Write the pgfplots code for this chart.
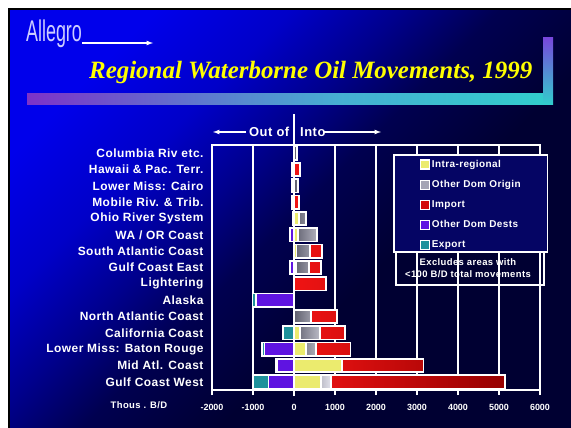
\documentclass[border=0pt]{standalone}
\usepackage{fontspec}
\setmainfont{Liberation Sans}
\newfontfamily\titlefont{Liberation Serif}
\newfontfamily\lblfont[LetterSpace=4]{Liberation Sans}
\usepackage{pgfplots}
\usepackage{pgfplotstable}
\pgfplotsset{compat=1.18}

% slide colours
\definecolor{bgA}{RGB}{0,0,235}
\definecolor{bgB}{RGB}{0,0,200}
\definecolor{bgC}{RGB}{0,0,140}
\definecolor{bgD}{RGB}{0,0,80}
\definecolor{bgE}{RGB}{0,0,50}
\definecolor{barL}{RGB}{125,50,200}
\definecolor{barM}{RGB}{70,175,210}
\definecolor{barR}{RGB}{50,205,205}
\definecolor{legbg}{RGB}{5,5,100}
% series colours
\definecolor{cExport}{RGB}{30,145,155}
\definecolor{cDests}{RGB}{95,20,225}
\definecolor{cIntra}{RGB}{235,235,110}
\definecolor{cOrigin}{RGB}{165,165,180}
\definecolor{cImport}{RGB}{210,10,10}
\definecolor{cImportL}{RGB}{240,20,20}
\definecolor{cImportR}{RGB}{150,0,0}
\definecolor{cOriginL}{RGB}{95,95,110}
\definecolor{cOriginR}{RGB}{225,225,235}

\pgfdeclarehorizontalshading{slidebg}{100bp}{color(0bp)=(bgA); color(25bp)=(bgA); color(35bp)=(bgB); color(43bp)=(bgC); color(50bp)=(bgD); color(60bp)=(bgE); color(100bp)=(bgE)}
\pgfdeclarehorizontalshading{titlebar}{100bp}{color(0bp)=(barL); color(25bp)=(barL); color(55bp)=(barM); color(75bp)=(barR); color(100bp)=(barR)}

% rows from bottom (0) to top (14); out-of movements are negative
\pgfplotstableread{
row dests export
0  -620 -380
1  -410 -20
2  -720 -70
3  0    -260
4  0    0
5  -930 -80
6  0    0
7  -90  0
8  0    0
9  -105 0
10 -30  0
11 -50  0
12 -50  0
13 -40  0
14 0    0
}\outdata

\pgfplotstableread{
row intra origin import
0  650  250 4250
1  1180 0   1980
2  300  240 840
3  150  490 600
4  0    420 620
5  0    0   0
6  0    0   780
7  40   320 290
8  60   330 290
9  100  460 0
10 120  180 0
11 0    0   130
12 0    100 0
13 0    0   150
14 0    80  0
}\intodata

\newcommand{\lblsize}{\lblfont\bfseries\fontsize{12}{13}\selectfont}
\newcommand{\ticksize}{\bfseries\fontsize{9}{10}\selectfont}
\newcommand{\legsize}{\lblfont\bfseries\fontsize{10}{11}\selectfont}

\pgfplotsset{
  slidebox/.style={
    at={(212bp,-390bp)}, anchor=south west,
    width=328bp, height=245bp, scale only axis,
    xmin=-2000, xmax=6000, ymin=-0.5, ymax=14.5,
    xbar stacked, bar width=13.5bp,
  },
  seg/.style={draw=white, line width=1.8bp, fill=#1},
  legsq/.style={legend image code/.code={
    \draw[white, line width=1.3bp, fill=#1] (0bp,-4.5bp) rectangle (9bp,4.5bp);}},
}

\begin{document}
\begin{tikzpicture}
\useasboundingbox (0,0) rectangle (571bp,-428bp);
\fill[white] (0,0) rectangle (571bp,-428bp);
\fill[black] (8bp,-8bp) rectangle (571bp,-428bp);
\shade[shading=slidebg, shading angle=-45] (10bp,-10bp) rectangle (571bp,-428bp);

% header
\node[anchor=base west, inner sep=0pt, text={rgb,255:red,205;green,205;blue,255},
      font=\fontsize{30}{30}\selectfont, xscale=0.6] at (26bp,-41bp) {Allegro};
\draw[white, line width=1.2bp, -latex] (82bp,-43bp) -- (153bp,-43bp);
\node[anchor=base west, inner sep=0pt, text={rgb,255:red,255;green,255;blue,0},
      font=\titlefont\bfseries\itshape\fontsize{25}{26}\selectfont] at (89bp,-78bp)
      {Regional Waterborne Oil Movements, 1999};
\shade[shading=titlebar] (27bp,-93bp) rectangle (546bp,-104bp);
\shade[top color={rgb,255:red,120;green,70;blue,220}, bottom color=barR] (543bp,-37bp) rectangle (553bp,-104bp);

% out of / into
\node[anchor=east, inner sep=0pt, text=white, font=\lblfont\bfseries\fontsize{13}{14}\selectfont] at (289.5bp,-132bp) {Out of};
\node[anchor=west, inner sep=0pt, text=white, font=\lblfont\bfseries\fontsize{13}{14}\selectfont] at (300bp,-132bp) {Into};
\draw[white, line width=1.2bp, -latex] (246bp,-132bp) -- (213bp,-132bp);
\draw[white, line width=1.2bp, -latex] (323bp,-132bp) -- (381bp,-132bp);

\begin{axis}[
  slidebox,
  axis line style={white, line width=1.5bp},
  xmajorgrids, grid style={white, line width=1.2bp},
  xtick={-2000,-1000,...,6000},
  xticklabels={-2000,-1000,0,1000,2000,3000,4000,5000,6000},
  xtick pos=left, tick align=outside, major tick length=5bp,
  xtick style={white, line width=1.2bp},
  xticklabel style={font=\ticksize, text=white, yshift=-6bp},
  ytick={0,...,14},
  yticklabels={Gulf Coast West, Mid Atl. Coast, Lower Miss: Baton Rouge, California Coast,
    North Atlantic Coast, Alaska, Lightering, Gulf Coast East, South Atlantic Coast,
    WA / OR Coast, Ohio River System, Mobile Riv. \& Trib., Lower Miss: Cairo,
    Hawaii \& Pac. Terr., Columbia Riv etc.},
  ytick style={draw=none},
  yticklabel style={font=\lblsize, text=white, anchor=east},
]
\addplot[seg=cDests] table[x=dests, y=row] {\outdata};
\addplot[seg=cExport] table[x=export, y=row] {\outdata};
\end{axis}

% legend panel and note
\draw[white, line width=1.8bp, fill=legbg] (394bp,-155bp) rectangle (547.5bp,-252bp);
\draw[white, line width=1.8bp] (396bp,-252bp) rectangle (544bp,-285bp);
\node[text=white, font=\lblfont\bfseries\fontsize{9.5}{10}\selectfont, align=center, inner sep=0pt]
  at (468bp,-268bp) {Excludes areas with\\[1.5bp] <100 B/D total movements};
\node[text=white, font=\lblfont\bfseries\fontsize{9.5}{10}\selectfont, inner sep=0pt] at (139bp,-405bp) {Thous . B/D};

\begin{axis}[
  slidebox, hide axis, clip=false,
  legend style={at={(axis description cs:0.634,0.942)}, anchor=north west,
    draw=none, fill=none, font=\legsize, text=white, inner sep=0pt,
    row sep=9.8bp, column sep=1bp,
    nodes={inner sep=0.5bp, text height=7.2bp, text depth=2bp}},
  legend cell align=left,
]
\addplot[seg=cIntra, forget plot] table[x=intra, y=row] {\intodata};
\addplot[seg=cOrigin, left color=cOriginL, right color=cOriginR, forget plot] table[x=origin, y=row] {\intodata};
\addplot[seg=cImport, left color=cImportL, right color=cImportR, forget plot] table[x=import, y=row] {\intodata};
\draw[white, line width=2bp] (axis cs:0,-0.87) -- (axis cs:0,16.4);
\addlegendimage{legsq=cIntra}
\addlegendentry{Intra-regional}
\addlegendimage{legsq=cOrigin}
\addlegendentry{Other Dom Origin}
\addlegendimage{legsq=cImport}
\addlegendentry{Import}
\addlegendimage{legsq=cDests}
\addlegendentry{Other Dom Dests}
\addlegendimage{legsq=cExport}
\addlegendentry{Export}
\end{axis}
\end{tikzpicture}
\end{document}
